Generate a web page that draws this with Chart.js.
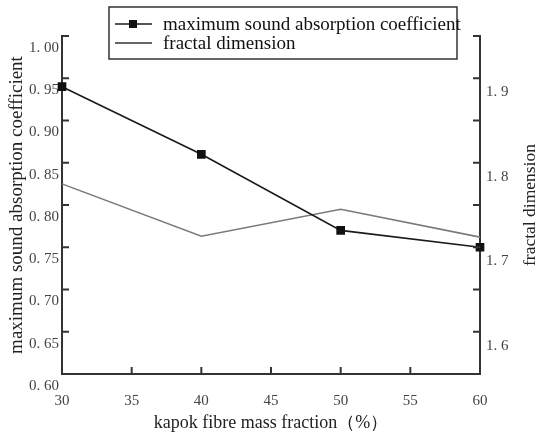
<!DOCTYPE html>
<html>
<head>
<meta charset="utf-8">
<script src="https://cdn.jsdelivr.net/npm/chart.js@4/dist/chart.umd.min.js"></script>
<style>
  html, body { margin: 0; padding: 0; background: #fff; }
  #wrap { width: 536px; height: 434px; position: relative; }
</style>
</head>
<body>
<div id="wrap"><canvas id="chart"></canvas></div>
<script>
// data
const fractions = [30, 40, 50, 60];
const absorption = [0.940, 0.860, 0.770, 0.750];
const fractal = [1.775, 1.713, 1.745, 1.712];
const xTicks = [30, 35, 40, 45, 50, 55, 60];
const leftTicks = [0.60, 0.65, 0.70, 0.75, 0.80, 0.85, 0.90, 0.95, 1.00];
const rightTicks = [1.55, 1.60, 1.65, 1.70, 1.75, 1.80, 1.85, 1.90, 1.95];
const rightLabels = [1.6, 1.7, 1.8, 1.9];
const rightTitle = 'fractal dimension';

const serif = "'Liberation Serif', 'DejaVu Serif', serif";

// ticks pointing into the plot area
const innerTicks = {
    id: 'innerTicks',
    afterDraw(chart) {
        const ctx = chart.ctx;
        const area = chart.chartArea;
        ctx.save();
        ctx.strokeStyle = '#333';
        ctx.lineWidth = 2;
        ctx.beginPath();
        chart.scales.y.ticks.forEach(t => {
            const py = chart.scales.y.getPixelForValue(t.value);
            ctx.moveTo(area.left, py); ctx.lineTo(area.left + 7, py);
        });
        chart.scales.y2.ticks.forEach(t => {
            const py = chart.scales.y2.getPixelForValue(t.value);
            ctx.moveTo(area.right, py); ctx.lineTo(area.right - 7, py);
        });
        chart.scales.x.ticks.forEach(t => {
            const px = chart.scales.x.getPixelForValue(t.value);
            ctx.moveTo(px, area.bottom); ctx.lineTo(px, area.bottom - 7);
        });
        ctx.stroke();

        // right axis title, reading bottom to top
        const cy = (area.top + area.bottom) / 2;
        ctx.translate(530, cy);
        ctx.rotate(-Math.PI / 2);
        ctx.font = '17.5px ' + serif;
        ctx.fillStyle = '#222';
        ctx.textAlign = 'center';
        ctx.textBaseline = 'middle';
        ctx.fillText(rightTitle, 0, 0);
        ctx.restore();
    }
};

// boxed legend at the top
const boxLegend = {
    id: 'boxLegend',
    afterDraw(chart) {
        const ctx = chart.ctx;
        const ds = chart.data.datasets;
        ctx.save();
        ctx.fillStyle = '#fff';
        ctx.fillRect(109, 7, 348, 52);
        ctx.strokeStyle = '#333';
        ctx.lineWidth = 1.5;
        ctx.strokeRect(109, 7, 348, 52);
        ctx.font = '19px ' + serif;
        ctx.textBaseline = 'middle';
        const rows = [24, 43];
        ds.forEach((d, i) => {
            const y = rows[i];
            ctx.strokeStyle = i === 0 ? '#1a1a1a' : '#333';
            ctx.lineWidth = 1.6;
            ctx.beginPath();
            ctx.moveTo(115, y); ctx.lineTo(152, y);
            ctx.stroke();
            if (d.pointRadius > 0) {
                ctx.fillStyle = d.pointBackgroundColor;
                ctx.fillRect(133 - 4, y - 4, 8, 8);
            }
            ctx.fillStyle = '#111';
            ctx.fillText(d.label, 163, y + 1);
        });
        ctx.restore();
    }
};

new Chart(document.getElementById('chart'), {
    type: 'line',
    data: {
        datasets: [{
            label: 'maximum sound absorption coefficient',
            data: fractions.map((f, i) => ({ x: f, y: absorption[i] })),
            yAxisID: 'y',
            borderColor: '#1a1a1a',
            borderWidth: 1.6,
            pointStyle: 'rect',
            pointRadius: 5,
            pointBackgroundColor: '#111',
            pointBorderColor: '#111',
            clip: false,
            order: 1,
            tension: 0
        }, {
            label: 'fractal dimension',
            data: fractions.map((f, i) => ({ x: f, y: fractal[i] })),
            yAxisID: 'y2',
            borderColor: '#7a7a7a',
            borderWidth: 1.6,
            pointRadius: 0,
            clip: false,
            order: 2,
            tension: 0
        }]
    },
    options: {
        responsive: true,
        maintainAspectRatio: false,
        animation: false,
        layout: { padding: { top: 36, left: 0, right: 0, bottom: 0 } },
        plugins: {
            legend: { display: false },
            tooltip: { enabled: false }
        },
        scales: {
            x: {
                type: 'linear',
                min: 30,
                max: 60,
                afterBuildTicks: s => { s.ticks = xTicks.map(v => ({ value: v })); },
                afterFit: s => { s.height = 60; },
                grid: { display: false, drawTicks: false },
                border: { color: '#333', width: 2 },
                ticks: {
                    padding: 18,
                    color: '#444',
                    font: { family: serif, size: 15 }
                },
                title: {
                    display: true,
                    text: 'kapok fibre mass fraction（%）',
                    color: '#222',
                    font: { family: serif, size: 18 },
                    padding: { top: 0, bottom: 0 }
                }
            },
            y: {
                position: 'left',
                min: 0.6,
                max: 1.0,
                afterBuildTicks: s => { s.ticks = leftTicks.map(v => ({ value: v })); },
                afterFit: s => { s.width = 62; },
                grid: { display: false, drawTicks: false },
                border: { color: '#333', width: 2 },
                ticks: {
                    padding: 3,
                    labelOffset: 12,
                    color: '#444',
                    font: { family: serif, size: 15 },
                    callback: v => v.toFixed(2).replace('.', '. ')
                },
                title: {
                    display: true,
                    text: 'maximum sound absorption coefficient',
                    color: '#222',
                    font: { family: serif, size: 19 },
                    padding: { top: 6, bottom: 0 }
                }
            },
            y2: {
                position: 'right',
                min: 1.55,
                max: 1.95,
                afterBuildTicks: s => { s.ticks = rightTicks.map(v => ({ value: v })); },
                afterFit: s => { s.width = 56; },
                grid: { display: false, drawTicks: false },
                border: { color: '#333', width: 2 },
                ticks: {
                    padding: 6,
                    labelOffset: 14,
                    color: '#444',
                    font: { family: serif, size: 15 },
                    callback: v => {
                        const hit = rightLabels.find(r => Math.abs(r - v) < 1e-6);
                        return hit !== undefined ? hit.toFixed(1).replace('.', '. ') : '';
                    }
                },
                title: { display: false }
            }
        }
    },
    plugins: [innerTicks, boxLegend]
});
</script>
</body>
</html>
